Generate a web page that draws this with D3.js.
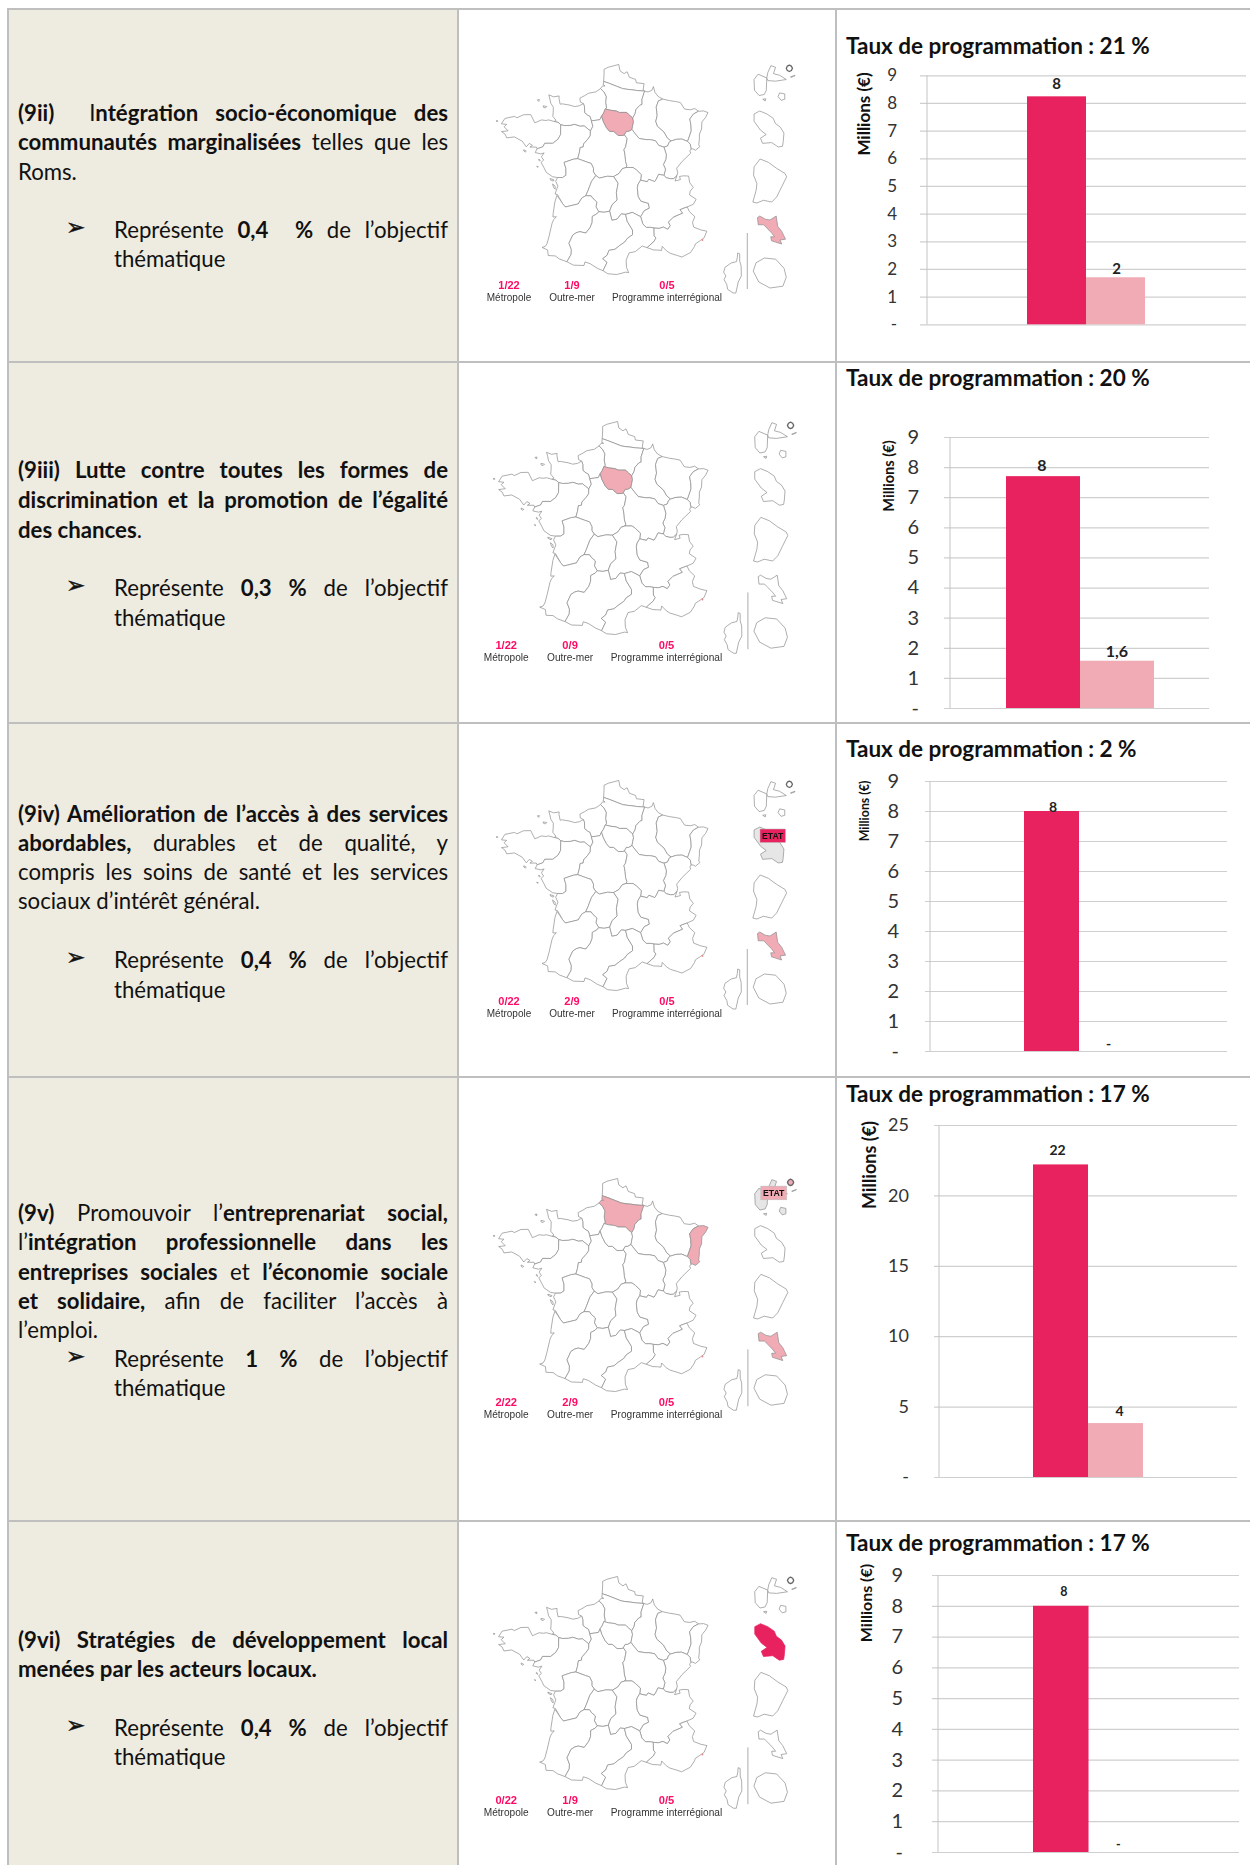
<!DOCTYPE html>
<html lang="fr">
<head>
<meta charset="UTF-8">
<title>Taux de programmation par priorité</title>
<script src="https://d3js.org/d3.v7.min.js"></script>
<style>
    html, body { margin: 0; padding: 0; background: #fff; overflow: hidden; }
    #page { position: relative; width: 1250px; height: 1865px; overflow: hidden; }
    svg { position: absolute; left: 0; top: 0; }
    .line { position: absolute; font: 22.2px/29px Lato, sans-serif; color: #111; white-space: pre-wrap; text-align: left; }
    .line.just { text-align: justify; text-align-last: justify; }
    .line b { font-weight: 700; }
    .arrow { position: absolute; font: 23px/29px "DejaVu Sans", sans-serif; color: #111; -webkit-text-stroke: 0.4px #111; }
    .title { font: 700 22.5px Lato, sans-serif; fill: #111; }
    .tick text { font-family: Lato, sans-serif; fill: #333; }
    .ylab { font-family: Lato, sans-serif; font-weight: 700; fill: #111; }
    .barlab { font-family: Lato, sans-serif; font-weight: 700; fill: #222; }
    .maps { filter: blur(0.3px); }
    .shape { stroke: #8c8c8c; stroke-width: 0.7; fill: #fff; stroke-linejoin: round; }
    .legval { font: 700 11px "Liberation Sans", sans-serif; fill: #ff0a64; text-anchor: middle; }
    .leglab { font: 10px "Liberation Sans", sans-serif; fill: #333; text-anchor: middle; }
    .etat { font: 700 8.6px "Liberation Sans", sans-serif; fill: #111; text-anchor: middle; }
</style>
</head>
<body>
<div id="page"></div>
<script>
    // chart values
    const titles = ["Taux de programmation : 21 %", "Taux de programmation : 20 %", "Taux de programmation : 2 %",
                    "Taux de programmation : 17 %", "Taux de programmation : 17 %"];
    const series = ["programmé", "certifié"];
    const darkValues = [8.24, 7.7, 8, 22.2, 8];
    const lightValues = [1.7, 1.57, 0, 3.83, 0];
    const darkLabels = ["8", "8", "8", "22", "8"];
    const lightLabels = ["2", "1,6", "-", "4", "-"];
    const yMax = [9, 9, 9, 25, 9];
    const yTicks = [
        [0, 1, 2, 3, 4, 5, 6, 7, 8, 9],
        [0, 1, 2, 3, 4, 5, 6, 7, 8, 9],
        [0, 1, 2, 3, 4, 5, 6, 7, 8, 9],
        [0, 5, 10, 15, 20, 25],
        [0, 1, 2, 3, 4, 5, 6, 7, 8, 9]
    ];
    const metroCounts = ["1/22", "1/22", "0/22", "2/22", "0/22"];
    const outreCounts = ["1/9", "0/9", "2/9", "2/9", "1/9"];
    const interCounts = ["0/5", "0/5", "0/5", "0/5", "0/5"];

    // which regions are coloured on each map
    const paleShapes = [["IDF", "Mayotte"], ["IDF"], ["Mayotte"], ["PIC", "ALS", "Mayotte", "StMartin"], []];
    const greyShapes = [[], [], ["Martinique"], ["Basse-Terre", "Grande-Terre", "Marie-Galante"], []];
    const solidShapes = [[], [], [], [], ["Martinique"]];
    const etatBox = [null, null, "dark", "pale", null];

    // left column text, one entry per printed line
    const rep = (v, gap) => "Représente <b>" + v + gap + "%</b> de l’objectif";
    const rowLines = [
        ["<b>(9ii)</b>  I<b>ntégration socio-économique des</b>", "<b>communautés marginalisées</b> telles que les", "Roms.", rep("0,4", "  "), "thématique"],
        ["<b>(9iii) Lutte contre toutes les formes de</b>", "<b>discrimination et la promotion de l’égalité</b>", "<b>des chances</b>.", rep("0,3", " "), "thématique"],
        ["<b>(9iv) Amélioration de l’accès à des services</b>", "<b>abordables,</b> durables et de qualité, y", "compris les soins de santé et les services", "sociaux d’intérêt général.", rep("0,4", " "), "thématique"],
        ["<b>(9v)</b> Promouvoir l’<b>entreprenariat social,</b>", "l’<b>intégration professionnelle dans les</b>", "<b>entreprises sociales</b> et <b>l’économie sociale</b>", "<b>et solidaire,</b> afin de faciliter l’accès à", "l’emploi.", rep("1", " "), "thématique"],
        ["<b>(9vi) Stratégies de développement local</b>", "<b>menées par les acteurs locaux.</b>", rep("0,4", " "), "thématique"]
    ];

    // map outlines in lon/lat, shared borders kept once
    const arcs = {
        npcBel: [[1.57,50.37],[1.58,50.52],[1.59,50.72],[1.58,50.87],[1.85,50.96],[2.55,51.08],[2.63,50.82],[2.9,50.7],[3.1,50.78],[3.25,50.55],[3.65,50.46],[3.7,50.32],[4.2,50.28],[4.13,50.02],[4.23,49.97]],
        npcPic: [[1.57,50.37],[1.95,50.29],[2.4,50.18],[2.8,50.08],[3.1,50.05],[3.4,50.03],[3.7,50.0],[4.23,49.97]],
        picCoast: [[1.57,50.37],[1.55,50.22],[1.67,50.18],[1.5,50.18],[1.38,50.07]],
        picHn: [[1.38,50.07],[1.6,49.93],[1.75,49.75],[1.72,49.5],[1.78,49.28],[1.71,49.23]],
        picIdf: [[1.71,49.23],[2.0,49.18],[2.4,49.15],[2.6,49.09],[3.07,49.09],[3.17,49.02],[3.25,48.97],[3.45,48.86]],
        picCa: [[3.45,48.86],[3.6,49.03],[3.65,49.2],[3.9,49.38],[4.05,49.42],[4.05,49.63],[4.23,49.97]],
        hnCoast: [[1.38,50.07],[1.08,49.93],[0.6,49.86],[0.37,49.76],[0.07,49.65],[0.1,49.49],[0.3,49.43]],
        hnBn: [[0.3,49.43],[0.38,49.3],[0.4,49.05],[0.6,48.95],[0.75,48.9],[0.84,48.72]],
        hnCen: [[0.84,48.72],[1.15,48.75],[1.38,48.78],[1.48,48.93]],
        hnIdf: [[1.48,48.93],[1.6,49.05],[1.71,49.23]],
        bnCoast: [[0.3,49.43],[0.05,49.33],[-0.25,49.29],[-0.55,49.34],[-1.05,49.38],[-1.18,49.36],[-1.27,49.6],[-1.27,49.7],[-1.62,49.65],[-1.94,49.72],[-1.85,49.55],[-1.78,49.38],[-1.6,49.22],[-1.59,48.98],[-1.6,48.84],[-1.38,48.68],[-1.5,48.63]],
        bnBre: [[-1.5,48.63],[-1.25,48.6],[-1.07,48.51]],
        bnPdl: [[-1.07,48.51],[-0.85,48.48],[-0.45,48.5],[-0.2,48.55],[0.15,48.48],[0.4,48.5],[0.6,48.4],[0.8,48.3]],
        bnCen: [[0.8,48.3],[0.95,48.5],[0.84,48.72]],
        breCoast: [[-1.5,48.63],[-1.85,48.68],[-2.02,48.65],[-2.3,48.66],[-2.7,48.52],[-3.0,48.85],[-3.45,48.82],[-3.85,48.67],[-4.0,48.72],[-4.6,48.6],[-4.78,48.36],[-4.45,48.36],[-4.6,48.25],[-4.33,48.1],[-4.73,48.04],[-4.5,47.95],[-4.37,47.8],[-3.9,47.87],[-3.4,47.72],[-3.12,47.5],[-2.95,47.65],[-2.75,47.58],[-2.9,47.5],[-2.5,47.52],[-2.45,47.45]],
        brePdl: [[-2.45,47.45],[-2.1,47.55],[-2.0,47.7],[-1.5,47.72],[-1.2,47.9],[-1.05,48.1],[-1.07,48.51]],
        pdlCoast: [[-2.45,47.45],[-2.55,47.29],[-2.2,47.25],[-2.0,47.3],[-2.15,47.13],[-2.0,47.0],[-2.15,46.9],[-1.95,46.68],[-1.8,46.5],[-1.4,46.33],[-1.1,46.31]],
        pdlPc: [[-1.1,46.31],[-0.8,46.32],[-0.6,46.42],[-0.62,46.7],[-0.75,46.95],[-0.2,47.1],[0.07,47.13]],
        pdlCen: [[0.07,47.13],[0.15,47.35],[0.2,47.6],[0.38,47.62],[0.4,47.75],[0.65,47.95],[0.8,48.1],[0.8,48.3]],
        cenIdf: [[1.48,48.93],[1.6,48.7],[1.8,48.45],[2.0,48.3],[2.25,48.3],[2.55,48.13],[2.8,48.13],[2.93,48.16]],
        cenBou: [[2.93,48.16],[3.1,48.0],[3.0,47.65],[2.9,47.55],[2.97,47.3],[3.0,47.05],[3.08,46.88],[3.03,46.8]],
        cenAuv: [[3.03,46.8],[2.8,46.75],[2.6,46.55],[2.28,46.42]],
        cenLim: [[2.28,46.42],[1.9,46.43],[1.42,46.35],[1.2,46.45]],
        cenPc: [[1.2,46.45],[1.05,46.6],[1.05,46.75],[0.9,46.95],[0.65,47.0],[0.3,47.08],[0.07,47.13]],
        idfCa: [[3.45,48.86],[3.5,48.7],[3.45,48.55],[3.4,48.38]],
        idfBou: [[3.4,48.38],[3.2,48.3],[3.05,48.3],[2.93,48.16]],
        caBou: [[3.4,48.38],[3.6,48.2],[3.85,48.0],[4.3,47.95],[4.5,47.95],[4.85,47.9],[5.05,47.7],[5.37,47.62]],
        caFc: [[5.37,47.62],[5.6,47.67],[5.7,47.82],[5.82,47.87]],
        caLor: [[5.82,47.87],[5.6,48.0],[5.4,48.25],[5.0,48.5],[4.9,48.7],[5.0,48.95],[4.95,49.3],[5.1,49.55],[5.39,49.62]],
        caBel: [[4.23,49.97],[4.45,49.93],[4.7,50.0],[4.8,50.15],[4.9,49.9],[5.1,49.73],[5.39,49.62]],
        lorN: [[5.39,49.62],[5.8,49.55],[6.2,49.5],[6.5,49.45],[6.75,49.17],[7.1,49.13],[7.4,49.17],[7.63,49.05]],
        alsLor: [[7.63,49.05],[7.3,48.95],[7.05,48.75],[7.1,48.5],[7.1,48.25],[6.95,48.0],[6.84,47.82]],
        lorFc: [[6.84,47.82],[6.5,47.93],[6.15,47.93],[5.82,47.87]],
        alsE: [[7.63,49.05],[7.95,49.05],[8.22,48.97],[8.05,48.78],[7.8,48.6],[7.75,48.3],[7.6,48.1],[7.58,47.9],[7.52,47.65],[7.58,47.58],[7.3,47.44],[7.15,47.5],[7.03,47.5]],
        alsFc: [[7.03,47.5],[7.0,47.7],[6.84,47.82]],
        fcCh: [[7.03,47.5],[6.95,47.42],[7.0,47.33],[6.7,47.15],[6.45,47.0],[6.1,46.73],[6.15,46.55],[6.1,46.42]],
        fcRa: [[6.1,46.42],[5.9,46.3],[5.7,46.3],[5.45,46.35],[5.31,46.45]],
        fcBou: [[5.31,46.45],[5.42,46.7],[5.3,46.9],[5.45,47.1],[5.5,47.3],[5.37,47.62]],
        bouRa: [[5.31,46.45],[5.0,46.5],[4.85,46.3],[4.75,46.2],[4.4,46.3],[4.3,46.2],[3.9,46.27]],
        bouAuv: [[3.9,46.27],[3.95,46.5],[3.65,46.7],[3.45,46.8],[3.03,46.8]],
        pcCoast: [[-1.1,46.31],[-1.2,46.15],[-1.05,45.95],[-1.1,45.85],[-1.2,45.62],[-1.05,45.6],[-0.72,45.23]],
        pcAqu: [[-0.72,45.23],[-0.55,45.1],[-0.3,45.15],[-0.05,45.2],[0.2,45.25],[0.4,45.5],[0.63,45.6]],
        pcLim: [[0.63,45.6],[0.75,45.8],[0.85,46.0],[0.95,46.2],[1.2,46.45]],
        aquLim: [[1.42,44.95],[1.25,45.15],[1.3,45.35],[1.05,45.5],[0.95,45.6],[0.63,45.6]],
        mpLim: [[1.42,44.95],[1.75,44.93],[2.06,44.98]],
        limAuv: [[2.06,44.98],[2.2,45.25],[2.5,45.45],[2.45,45.75],[2.5,45.95],[2.55,46.15],[2.28,46.42]],
        mpAuv: [[2.06,44.98],[2.2,44.6],[2.5,44.65],[2.75,44.87],[3.0,44.85]],
        auvLr: [[3.0,44.85],[3.4,44.93],[3.88,44.75]],
        auvRa: [[3.88,44.75],[4.1,45.0],[4.4,45.1],[4.35,45.3],[3.9,45.4],[3.75,45.6],[3.7,45.95],[3.75,46.1],[3.9,46.27]],
        lrRa: [[3.88,44.75],[4.0,44.45],[4.2,44.3],[4.45,44.3],[4.65,44.27]],
        raE: [[6.1,46.42],[5.97,46.2],[6.3,46.25],[6.25,46.38],[6.5,46.4],[6.8,46.38],[6.85,46.1],[7.05,45.9],[6.85,45.75],[6.8,45.6],[7.18,45.4],[7.0,45.2],[6.63,45.1]],
        raPaca: [[6.63,45.1],[6.2,45.0],[6.35,44.85],[5.8,44.7],[5.5,44.5],[5.6,44.35],[5.45,44.2],[5.2,44.3],[4.95,44.25],[4.65,44.27]],
        aquCoast: [[-0.72,45.23],[-0.95,45.45],[-1.08,45.57],[-1.18,45.3],[-1.25,44.8],[-1.25,44.66],[-1.05,44.68],[-1.2,44.55],[-1.28,44.4],[-1.4,43.9],[-1.5,43.55],[-1.6,43.42],[-1.78,43.37],[-1.45,43.28],[-1.4,43.05],[-1.0,43.05],[-0.75,42.93],[-0.32,42.83]],
        aquMp: [[-0.32,42.83],[-0.1,43.15],[-0.1,43.35],[-0.25,43.6],[-0.05,43.95],[0.15,44.05],[0.35,44.1],[0.7,44.05],[0.95,44.3],[1.05,44.5],[1.05,44.75],[1.3,44.85],[1.42,44.95]],
        mpPyr: [[-0.32,42.83],[0.05,42.7],[0.65,42.7],[0.7,42.85],[1.0,42.78],[1.4,42.6],[1.73,42.5]],
        mpLr: [[3.0,44.85],[3.1,44.55],[3.4,44.2],[3.4,44.0],[3.1,43.85],[2.95,43.7],[2.65,43.55],[2.4,43.4],[2.05,43.35],[1.95,43.15],[1.7,43.0],[1.95,42.85],[1.73,42.5]],
        lrCoast: [[1.73,42.5],[2.0,42.38],[2.5,42.35],[3.0,42.45],[3.17,42.43],[3.05,42.65],[3.03,42.95],[3.2,43.25],[3.55,43.3],[3.95,43.53],[4.23,43.46]],
        lrPaca: [[4.65,44.27],[4.65,43.95],[4.75,43.85],[4.62,43.7],[4.45,43.6],[4.23,43.46]],
        pacaCoast: [[4.23,43.46],[4.6,43.36],[4.85,43.35],[5.05,43.33],[5.1,43.5],[5.2,43.42],[5.35,43.3],[5.55,43.2],[5.95,43.1],[6.2,43.03],[6.7,43.2],[6.95,43.45],[7.0,43.55],[7.3,43.68],[7.52,43.78],[7.7,44.05],[7.35,44.12],[6.95,44.25],[6.9,44.45],[7.05,44.68],[6.75,44.9],[6.63,45.1]]
    };

    const regionArcs = {
        NPC: ["npcBel", "-npcPic"],
        PIC: ["picCoast", "picHn", "picIdf", "picCa", "-npcPic"],
        HN: ["hnCoast", "hnBn", "hnCen", "hnIdf", "-picHn"],
        BN: ["bnCoast", "bnBre", "bnPdl", "bnCen", "-hnBn"],
        BRE: ["breCoast", "brePdl", "-bnBre"],
        PDL: ["pdlCoast", "pdlPc", "pdlCen", "-bnPdl", "-brePdl"],
        CEN: ["pdlCen", "bnCen", "hnCen", "cenIdf", "cenBou", "cenAuv", "cenLim", "cenPc"],
        IDF: ["hnIdf", "picIdf", "idfCa", "idfBou", "-cenIdf"],
        CA: ["-picCa", "idfCa", "caBou", "caFc", "caLor", "-caBel"],
        LOR: ["lorN", "alsLor", "lorFc", "caLor"],
        ALS: ["alsE", "alsFc", "-alsLor"],
        FC: ["fcCh", "fcRa", "fcBou", "caFc", "-lorFc", "-alsFc"],
        BOU: ["fcBou", "-caBou", "idfBou", "cenBou", "-bouAuv", "-bouRa"],
        PC: ["pcCoast", "pcAqu", "pcLim", "cenPc", "-pdlPc"],
        LIM: ["-pcLim", "-aquLim", "mpLim", "limAuv", "cenLim"],
        AUV: ["-limAuv", "mpAuv", "auvLr", "auvRa", "bouAuv", "cenAuv"],
        RA: ["auvRa", "-bouRa", "-fcRa", "raE", "raPaca", "-lrRa"],
        AQU: ["-pcAqu", "aquCoast", "aquMp", "aquLim"],
        MP: ["mpPyr", "-mpLr", "-mpAuv", "-mpLim", "-aquMp"],
        LR: ["mpLr", "lrCoast", "-lrPaca", "-lrRa", "-auvLr"],
        PACA: ["lrPaca", "pacaCoast", "raPaca"]
    };

    const metroIslands = [
        [[-5.14,48.46],[-5.05,48.48],[-5.02,48.45],[-5.1,48.44]],
        [[-3.26,47.37],[-3.1,47.32],[-3.16,47.28],[-3.26,47.32]],
        [[-2.3,47.03],[-2.2,46.98],[-2.25,46.95],[-2.32,47.0]],
        [[-2.4,46.73],[-2.3,46.71],[-2.34,46.68]],
        [[-1.55,46.25],[-1.3,46.2],[-1.35,46.15],[-1.53,46.2]],
        [[-1.38,46.03],[-1.22,45.95],[-1.2,45.82],[-1.3,45.88]],
        [[-2.25,49.25],[-2.02,49.23],[-2.1,49.17],[-2.23,49.19]],
        [[-2.65,49.48],[-2.52,49.5],[-2.55,49.42]]
    ];

    const outreShapes = [
        { box: "gua", id: "Basse-Terre", ring: [[-61.72,16.35],[-61.55,16.28],[-61.56,16.05],[-61.6,15.97],[-61.7,15.95],[-61.79,16.05],[-61.8,16.25]] },
        { box: "gua", id: "Grande-Terre", ring: [[-61.55,16.28],[-61.53,16.38],[-61.47,16.51],[-61.38,16.48],[-61.42,16.36],[-61.3,16.33],[-61.17,16.25],[-61.38,16.22],[-61.53,16.23]] },
        { box: "gua", id: "Marie-Galante", ring: [[-61.3,16.0],[-61.2,15.98],[-61.2,15.88],[-61.27,15.86],[-61.33,15.93]] },
        { box: "gua", id: "Saintes", ring: [[-61.63,15.88],[-61.57,15.89],[-61.58,15.85]] },
        { box: "gua", id: "Desirade", ring: [[-61.09,16.3],[-61.0,16.33],[-61.0,16.32],[-61.08,16.29]] },
        { box: "gua", id: "StMartin", ring: [[-61.15,16.5],[-61.11,16.52],[-61.07,16.5],[-61.05,16.46],[-61.07,16.42],[-61.11,16.4],[-61.15,16.42],[-61.17,16.46]], thick: true },
        { box: "mar", id: "Martinique", ring: [[-61.22,14.84],[-61.14,14.88],[-61.04,14.84],[-60.95,14.78],[-60.92,14.71],[-60.85,14.66],[-60.8,14.58],[-60.81,14.46],[-60.82,14.4],[-60.88,14.39],[-60.97,14.45],[-61.1,14.44],[-61.13,14.51],[-61.05,14.56],[-61.13,14.62],[-61.22,14.74]] },
        { box: "guy", id: "Guyane", ring: [[-53.89,5.8],[-53.19,5.52],[-52.49,5.01],[-51.79,4.59],[-51.65,4.3],[-52.07,3.46],[-52.49,2.61],[-52.91,2.18],[-53.61,2.33],[-54.16,2.1],[-54.5,2.18],[-54.22,3.17],[-54.16,3.74],[-54.44,4.44],[-54.39,5.15]] },
        { box: "may", id: "Mayotte", ring: [[44.97,-12.67],[45.0,-12.65],[45.07,-12.69],[45.13,-12.7],[45.21,-12.65],[45.23,-12.78],[45.28,-12.84],[45.33,-12.94],[45.26,-12.95],[45.28,-13.0],[45.15,-12.96],[45.14,-12.91],[45.19,-12.91],[45.15,-12.86],[45.09,-12.8],[45.05,-12.76],[44.98,-12.76]] },
        { box: "reu", id: "Reunion", ring: [[55.45,-20.88],[55.65,-20.9],[55.8,-21.05],[55.84,-21.2],[55.78,-21.35],[55.55,-21.38],[55.35,-21.28],[55.25,-21.1],[55.3,-20.96]] },
        { box: "cor", id: "Corse", ring: [[9.35,43.03],[9.46,43.0],[9.46,42.7],[9.54,42.5],[9.55,42.1],[9.38,41.85],[9.25,41.4],[9.1,41.4],[8.8,41.55],[8.75,41.75],[8.6,41.95],[8.7,42.1],[8.58,42.25],[8.65,42.45],[9.0,42.63],[9.28,42.68],[9.33,42.85]] }
    ];

    // page layout
    const W = 1250, H = 1865;
    const colX = [8, 458, 836];
    const rowY = [9, 362, 723, 1077, 1521];
    const borderColor = "#bfbfbf", cellFill = "#eeebe0";
    const darkColor = "#e8215f", paleColor = "#f0abb5", greyColor = "#e6e6e6";

    const frames = [
        { titleY: 47, grid: [920, 1246], axisX: 927, yr: [324.3, 75.3], bars: [1027, 1145], tickRight: 897, tickSize: 17, yLabX: 864, yLabY: 114, yLabSize: 17, labSize: 15, labY: [13, 9], labDx: [0, 1] },
        { titleY: 379, grid: [944, 1209], axisX: 950, yr: [708, 437], bars: [1006, 1154], tickRight: 919, tickSize: 20, yLabX: 889, yLabY: 476, yLabSize: 14.6, labSize: 16, labY: [11, 9.5], labDx: [-1, 0] },
        { titleY: 750, grid: [925, 1227], axisX: 930, yr: [1051, 781], bars: [1024, 1134], tickRight: 899, tickSize: 20, yLabX: 865, yLabY: 811, yLabSize: 12.4, labSize: 14, labY: [4, 7], labDx: [1.5, 2] },
        { titleY: 1095, grid: [934, 1237], axisX: 939, yr: [1477, 1125], bars: [1033, 1143], tickRight: 909, tickSize: 18, yLabX: 870, yLabY: 1165, yLabSize: 18, labSize: 14, labY: [14, 12], labDx: [-3, 4] },
        { titleY: 1544, grid: [932, 1239], axisX: 938, yr: [1852, 1575], bars: [1033, 1144], tickRight: 903, tickSize: 20, yLabX: 866, yLabY: 1603, yLabSize: 16, labSize: 12.5, labY: [14, 8], labDx: [3, 2] }
    ];
    const textY = [
        [113, 142, 172, 230, 259],
        [470, 500, 530, 588, 618],
        [814, 843, 872, 901, 960, 990],
        [1213, 1242, 1272, 1301, 1330, 1359, 1388],
        [1640, 1669, 1728, 1757]
    ];
    const justifiedLines = [[0, 1, 3], [0, 1, 3], [0, 1, 2, 4], [0, 1, 2, 3, 5], [0, 2]];
    const indentedFrom = [3, 3, 4, 5, 2];
    const mapPlace = [
        { k: 1, dx: 0, dy: 0 },
        { k: 1.0142, dx: -10, dy: 356.1 },
        { k: 1, dx: 0, dy: 716 },
        { k: 1.0142, dx: -10, dy: 1113.1 },
        { k: 1.0142, dx: -10, dy: 1511.1 }
    ];
    const boxes = {
        metro: [[496, 63], [708, 276]],
        gua: [[754, 64], [795, 102]],
        mar: [[753, 111], [785, 147]],
        guy: [[752.5, 159], [787, 203]],
        may: [[757, 216], [786, 244]],
        reu: [[752.5, 258], [787, 288]],
        cor: [[722, 253], [743, 293]]
    };

    // ---- build shapes
    function chain(list) {
        const pts = [];
        list.forEach(name => {
            const rev = name[0] === "-";
            const a = arcs[rev ? name.slice(1) : name].slice();
            if (rev) a.reverse();
            a.forEach((p, i) => { if (i > 0 || pts.length === 0) pts.push(p); });
        });
        if (pts[0][0] !== pts[pts.length - 1][0] || pts[0][1] !== pts[pts.length - 1][1]) pts.push(pts[0]);
        return pts;
    }
    function toFeature(ring, id) {
        const r = ring.slice();
        if (r[0] !== r[r.length - 1]) r.push(r[0]);
        const f = { type: "Feature", id: id, geometry: { type: "Polygon", coordinates: [r] } };
        // d3 wants rings wound the spherical way round
        if (d3.geoArea(f) > 2 * Math.PI) f.geometry.coordinates[0] = r.slice().reverse();
        return f;
    }
    const metroFeatures = Object.keys(regionArcs).map(id => toFeature(chain(regionArcs[id]), id));
    metroIslands.forEach((r, i) => metroFeatures.push(toFeature(r, "ile" + i)));
    const metroPath = d3.geoPath(d3.geoConicConformal().parallels([44, 49]).rotate([-3, 0])
        .fitExtent(boxes.metro, { type: "FeatureCollection", features: metroFeatures }));

    const shapes = metroFeatures.map(f => ({ id: f.id, d: metroPath(f) }));
    Object.keys(boxes).filter(b => b !== "metro").forEach(b => {
        const list = outreShapes.filter(s => s.box === b);
        const feats = list.map(s => toFeature(s.ring, s.id));
        const mid = d3.geoCentroid({ type: "FeatureCollection", features: feats });
        const path = d3.geoPath(d3.geoMercator().rotate([-mid[0], 0])
            .fitExtent(boxes[b], { type: "FeatureCollection", features: feats }));
        feats.forEach((f, i) => shapes.push({ id: f.id, d: path(f), thick: list[i].thick }));
    });

    // ---- draw
    const page = d3.select("#page");
    const svg = page.append("svg").attr("width", W).attr("height", H);

    // table
    const cells = svg.append("g");
    cells.append("rect").attr("x", colX[0]).attr("y", rowY[0]).attr("width", colX[1] - colX[0]).attr("height", H - rowY[0]).attr("fill", cellFill);
    rowY.forEach(y => cells.append("line").attr("x1", colX[0] - 1).attr("x2", W).attr("y1", y).attr("y2", y).attr("stroke", borderColor).attr("stroke-width", 2));
    colX.forEach(x => cells.append("line").attr("x1", x).attr("x2", x).attr("y1", rowY[0] - 1).attr("y2", H).attr("stroke", borderColor).attr("stroke-width", 2));

    // left column
    rowLines.forEach((lines, r) => {
        lines.forEach((html, i) => {
            const indented = i >= indentedFrom[r];
            const left = indented ? 114 : 18;
            page.append("div")
                .attr("class", "line" + (justifiedLines[r].includes(i) ? " just" : ""))
                .style("left", left + "px")
                .style("top", (textY[r][i] - 15.5) + "px")
                .style("width", (448 - left) + "px")
                .html(html);
            if (i === indentedFrom[r]) {
                page.append("div").attr("class", "arrow")
                    .style("left", "66px").style("top", (textY[r][i] - 17) + "px").text("➢");
            }
        });
    });

    // maps
    const maps = svg.append("g").attr("class", "maps");
    mapPlace.forEach((p, r) => {
        const g = maps.append("g").attr("transform", `translate(${p.dx},${p.dy}) scale(${p.k})`);
        g.selectAll("path").data(shapes).join("path")
            .attr("class", "shape")
            .attr("d", d => d.d)
            .style("fill", d => solidShapes[r].includes(d.id) ? darkColor
                : paleShapes[r].includes(d.id) ? paleColor
                : greyShapes[r].includes(d.id) ? greyColor : "#fff")
            .style("stroke", d => solidShapes[r].includes(d.id) ? darkColor : d.thick ? "#666" : null)
            .style("stroke-width", d => d.thick ? 1.3 : null);
        // small mark near Nice and the divider of the inset panel
        g.append("circle").attr("cx", 702.5).attr("cy", 240).attr("r", 0.9).attr("fill", "#e58a8a");
        g.append("line").attr("x1", 747.3).attr("x2", 747.3).attr("y1", 233).attr("y2", 289).attr("stroke", "#999").attr("stroke-width", 0.8);
        if (etatBox[r]) {
            const yy = etatBox[r] === "dark" ? 113 : 72;
            g.append("rect").attr("x", 760).attr("y", yy).attr("width", 25.5).attr("height", 13.5)
                .attr("fill", etatBox[r] === "dark" ? darkColor : paleColor).attr("stroke", "#bbb").attr("stroke-width", 0.5);
            g.append("text").attr("class", "etat").attr("x", 772.7).attr("y", yy + 10).text("ETAT");
        }
        const leg = [[509, metroCounts[r], "Métropole"], [572, outreCounts[r], "Outre-mer"], [667, interCounts[r], "Programme interrégional"]];
        leg.forEach(l => {
            g.append("text").attr("class", "legval").attr("x", l[0]).attr("y", 289).text(l[1]);
            g.append("text").attr("class", "leglab").attr("x", l[0]).attr("y", 300.5).text(l[2]);
        });
    });

    // bar charts
    frames.forEach((f, i) => {
        const g = svg.append("g");
        g.append("text").attr("class", "title").attr("x", 846).attr("y", f.titleY + 7).text(titles[i]);

        const y = d3.scaleLinear().domain([0, yMax[i]]).range(f.yr);
        const x = d3.scaleBand().domain(series).range(f.bars).padding(0);
        const vals = [darkValues[i], lightValues[i]];
        const labs = [darkLabels[i], lightLabels[i]];

        const axis = g.append("g").attr("transform", `translate(${f.grid[0]},0)`)
            .call(d3.axisLeft(y).tickValues(yTicks[i])
                .tickSize(f.grid[0] - f.grid[1])
                .tickPadding(f.grid[0] - f.tickRight)
                .tickFormat(d => d === 0 ? "-" : d));
        axis.select(".domain").remove();
        axis.selectAll(".tick line").attr("stroke", "#cfcfcf").attr("stroke-width", 1.2);
        axis.selectAll(".tick text").style("font-size", f.tickSize + "px");
        g.append("line").attr("x1", f.axisX).attr("x2", f.axisX).attr("y1", f.yr[1]).attr("y2", f.yr[0])
            .attr("stroke", "#c4c4c4").attr("stroke-width", 1);

        g.selectAll("rect").data(series).join("rect")
            .attr("x", d => x(d))
            .attr("width", x.bandwidth())
            .attr("y", (d, j) => y(vals[j]))
            .attr("height", (d, j) => y(0) - y(vals[j]))
            .attr("fill", (d, j) => j === 0 ? darkColor : paleColor);

        g.selectAll(".barlab").data(series).join("text")
            .attr("class", "barlab")
            .attr("text-anchor", "middle")
            .attr("x", (d, j) => x(d) + x.bandwidth() / 2 + f.labDx[j])
            .attr("y", (d, j) => y(vals[j]) - f.labY[j] + f.labSize * 0.36)
            .style("font-size", f.labSize + "px")
            .text((d, j) => labs[j]);

        g.append("text").attr("class", "ylab")
            .attr("transform", `translate(${f.yLabX + f.yLabSize * 0.35},${f.yLabY}) rotate(-90)`)
            .attr("text-anchor", "middle")
            .style("font-size", f.yLabSize + "px")
            .text("Millions (€)");
    });
</script>
</body>
</html>
